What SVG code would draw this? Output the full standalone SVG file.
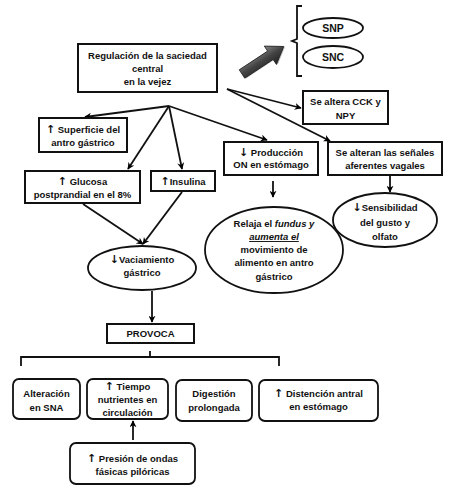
<svg xmlns="http://www.w3.org/2000/svg" width="449" height="494" viewBox="0 0 449 494">
<defs>
<marker id="ah" viewBox="0 0 10 10" refX="9" refY="5" markerWidth="7" markerHeight="7" markerUnits="userSpaceOnUse" orient="auto">
<path d="M0,0 L10,5 L0,10 L3,5 Z" fill="#000"/>
</marker>
<linearGradient id="ga" x1="0" y1="-11" x2="0" y2="11" gradientUnits="userSpaceOnUse">
<stop offset="0" stop-color="#888"/>
<stop offset="0.5" stop-color="#444"/>
<stop offset="1" stop-color="#222"/>
</linearGradient>
</defs>
<style>
text{font-family:"Liberation Sans",Arial,"DejaVu Sans",sans-serif;font-size:9.5px;font-weight:bold;fill:#111;text-anchor:middle}
.ar{font-family:"DejaVu Sans",sans-serif;font-size:11px;font-weight:bold}
.b{fill:#fff;stroke:#111;stroke-width:2}
.r{fill:#fff;stroke:#111;stroke-width:1.8}
.e{fill:#fff;stroke:#111;stroke-width:1.8}
.c{fill:none;stroke:#111;stroke-width:1.8}
</style>
<rect width="449" height="494" fill="#fff"/>

<g id="connectors">
<line class="c" x1="169" y1="106" x2="85" y2="117" marker-end="url(#ah)"/>
<line class="c" x1="169" y1="106" x2="128" y2="169" marker-end="url(#ah)"/>
<line class="c" x1="169" y1="106" x2="182" y2="169" marker-end="url(#ah)"/>
<line class="c" x1="169" y1="106" x2="267" y2="140" marker-end="url(#ah)"/>
<line class="c" x1="227" y1="89" x2="301" y2="108" marker-end="url(#ah)"/>
<line class="c" x1="227" y1="89" x2="330" y2="141" marker-end="url(#ah)"/>
<line class="c" x1="83" y1="204" x2="143" y2="244" marker-end="url(#ah)"/>
<line class="c" x1="182" y1="192" x2="143" y2="244" marker-end="url(#ah)"/>
<line class="c" x1="273" y1="181" x2="273" y2="197" marker-end="url(#ah)"/>
<line class="c" x1="390" y1="176" x2="390" y2="192" marker-end="url(#ah)"/>
<line class="c" x1="152" y1="291" x2="152" y2="322" marker-end="url(#ah)"/>
<line class="c" x1="133" y1="440" x2="133" y2="421" marker-end="url(#ah)"/>
<path class="c" d="M21,366 V357 H279 V366 M150,357 V351"/>
<path class="c" d="M302,6 H297 V39 L292,41 L297,43 V76 H302"/>
<g transform="translate(242,74) rotate(-33.4)">
<path d="M1,-4 H35 V-10 L51,1 L35,12 V6 H1 Z" fill="#999" opacity="0.6"/>
<path d="M0,-5 H34 V-11 L50,0 L34,11 V5 H0 Z" fill="url(#ga)" stroke="#222" stroke-width="0.8"/>
</g>
</g>

<g id="main">
<rect class="b" x="78" y="44" width="139" height="48"/>
<text x="147.5" y="59">Regulación de la saciedad</text>
<text x="147.5" y="72">central</text>
<text x="147.5" y="85">en la vejez</text>
</g>

<g id="snp">
<ellipse class="e" cx="333" cy="28" rx="30" ry="10"/>
<text x="333" y="32" style="font-size:10.5px">SNP</text>
</g>
<g id="snc">
<ellipse class="e" cx="333" cy="57" rx="30" ry="11"/>
<text x="333" y="61" style="font-size:10.5px">SNC</text>
</g>

<g id="cck">
<rect class="b" x="303" y="91" width="85" height="33"/>
<text x="345.5" y="105">Se altera CCK y</text>
<text x="345.5" y="119">NPY</text>
</g>

<g id="superficie">
<rect class="b" x="39" y="118" width="88" height="34"/>
<text x="83" y="133"><tspan class="ar">↑</tspan> Superficie del</text>
<text x="83" y="146">antro gástrico</text>
</g>

<g id="produccion">
<rect class="b" x="224" y="142" width="94" height="33"/>
<text x="271" y="156"><tspan class="ar">↓</tspan> Producción</text>
<text x="271" y="168">ON en estómago</text>
</g>

<g id="vagales">
<rect class="b" x="328" y="142" width="114" height="33"/>
<text x="385" y="156">Se alteran las señales</text>
<text x="385" y="169">aferentes vagales</text>
</g>

<g id="glucosa">
<rect class="b" x="25" y="171" width="115" height="32"/>
<text x="82.5" y="185"><tspan class="ar">↑</tspan> Glucosa</text>
<text x="82.5" y="198">postprandial en el 8%</text>
</g>

<g id="insulina">
<rect class="b" x="151" y="171" width="64" height="20"/>
<text x="183" y="185"><tspan class="ar">↑</tspan>Insulina</text>
</g>

<g id="relaja">
<ellipse class="e" cx="274" cy="250" rx="69" ry="43"/>
<text x="274" y="227">Relaja el <tspan font-style="italic">fundus y</tspan></text>
<text x="274" y="240" font-style="italic" text-decoration="underline">aumenta el</text>
<text x="274" y="253">movimiento de</text>
<text x="274" y="266">alimento en antro</text>
<text x="274" y="280">gástrico</text>
</g>

<g id="sensibilidad">
<ellipse class="e" cx="385" cy="220" rx="52" ry="27"/>
<text x="385" y="211"><tspan class="ar">↓</tspan>Sensibilidad</text>
<text x="385" y="226">del gusto y</text>
<text x="385" y="240">olfato</text>
</g>

<g id="vaciamiento">
<ellipse class="e" cx="142" cy="268" rx="54" ry="22"/>
<text x="142" y="263"><tspan class="ar">↓</tspan>Vaciamiento</text>
<text x="142" y="276">gástrico</text>
</g>

<g id="provoca">
<rect class="b" x="107" y="324" width="87" height="19"/>
<text x="150.5" y="337">PROVOCA</text>
</g>

<g id="sna">
<rect class="r" x="13" y="379" width="67" height="40" rx="6"/>
<text x="46.5" y="397">Alteración</text>
<text x="46.5" y="411">en SNA</text>
</g>

<g id="tiempo">
<rect class="r" x="87" y="379" width="81" height="40" rx="6"/>
<text x="127.5" y="390"><tspan class="ar">↑</tspan> Tiempo</text>
<text x="127.5" y="403">nutrientes en</text>
<text x="127.5" y="416">circulación</text>
</g>

<g id="digestion">
<rect class="r" x="176" y="380" width="76" height="41" rx="6"/>
<text x="214" y="397">Digestión</text>
<text x="214" y="411">prolongada</text>
</g>

<g id="distencion">
<rect class="r" x="259" y="380" width="119" height="41" rx="6"/>
<text x="318.5" y="397"><tspan class="ar">↑</tspan>  Distención antral</text>
<text x="318.5" y="410">en estómago</text>
</g>

<g id="presion">
<rect class="r" x="70" y="443" width="125" height="41" rx="6"/>
<text x="132.5" y="462"><tspan class="ar">↑</tspan> Presión de ondas</text>
<text x="132.5" y="475">fásicas pilóricas</text>
</g>
</svg>
